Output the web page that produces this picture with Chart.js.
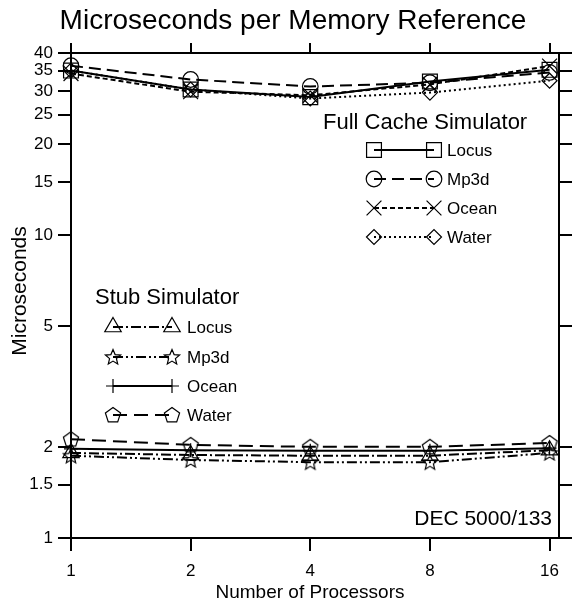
<!DOCTYPE html>
<html>
<head>
<meta charset="utf-8">
<script src="https://cdn.jsdelivr.net/npm/chart.js@4/dist/chart.umd.min.js"></script>
<style>
  body { margin: 0; background: #fff; }
</style>
</head>
<body>
<canvas id="c" width="574" height="606"></canvas>
<script>
// values
const procs = [1, 2, 4, 8, 16];
const yTicks = [1, 1.5, 2, 5, 10, 15, 20, 25, 30, 35, 40];

const fullLocus = [35.0, 30.3, 28.6, 32.2, 35.2];
const fullMp3d  = [36.3, 32.7, 31.0, 31.9, 34.5];
const fullOcean = [34.2, 29.8, 29.0, 31.5, 36.2];
const fullWater = [35.0, 30.3, 28.3, 29.6, 32.4];

const stubLocus = [1.91, 1.88, 1.87, 1.87, 1.95];
const stubMp3d  = [1.87, 1.81, 1.78, 1.78, 1.91];
const stubOcean = [1.97, 1.95, 1.94, 1.94, 1.98];
const stubWater = [2.12, 2.03, 2.00, 2.00, 2.06];

const FONT = '"Liberation Sans", Arial, sans-serif';

// hollow star and pentagon markers (chart.js has none)
function polyMarker(n, star, R) {
  const s = 20, c = document.createElement('canvas');
  c.width = s; c.height = s;
  const g = c.getContext('2d');
  g.strokeStyle = '#000'; g.lineWidth = 1.2;
  g.beginPath();
  const pts = star ? n * 2 : n;
  for (let i = 0; i < pts; i++) {
    const r = star ? (i % 2 ? R * 0.45 : R) : R;
    const a = -Math.PI / 2 + i * 2 * Math.PI / pts;
    const px = s / 2 + r * Math.cos(a), py = s / 2 + 0.5 + r * Math.sin(a);
    i ? g.lineTo(px, py) : g.moveTo(px, py);
  }
  g.closePath(); g.stroke();
  return c;
}
const starImg = polyMarker(5, true, 8);
const pentImg = polyMarker(5, false, 8);

function ds(label, vals, dash, style, radius) {
  return {
    label: label,
    data: procs.map((p, i) => ({ x: p, y: vals[i] })),
    borderColor: '#000', borderWidth: 2, borderDash: dash,
    pointStyle: style, pointRadius: radius, pointBorderWidth: 1.2,
    pointBorderColor: '#000', pointBackgroundColor: 'transparent',
    tension: 0, clip: false
  };
}

const full = [
  ds('Locus', fullLocus, [], 'rect', 10.5),
  ds('Mp3d', fullMp3d, [12, 6], 'circle', 7.8),
  ds('Ocean', fullOcean, [5, 3], 'crossRot', 10.5),
  ds('Water', fullWater, [2, 3], 'rectRot', 7.5)
];
const stub = [
  ds('Locus', stubLocus, [10, 3, 2, 3], 'triangle', 9.5),
  ds('Mp3d', stubMp3d, [10, 3, 2, 3, 2, 3], starImg, 8),
  ds('Ocean', stubOcean, [], 'cross', 7),
  ds('Water', stubWater, [14, 7], pentImg, 8)
];

function axis(pos, min, max, ticks, size, tickLen, showLabels) {
  const horiz = pos === 'top' || pos === 'bottom';
  return {
    type: 'logarithmic', position: pos, min: min, max: max,
    afterBuildTicks: s => { s.ticks = ticks.map(v => ({ value: v })); },
    afterFit: s => { if (horiz) s.height = size; else s.width = size; },
    ticks: {
      display: showLabels, autoSkip: false, maxRotation: 0,
      color: '#000', font: { family: FONT, size: 17 },
      padding: horiz ? 10 : 5,
      callback: v => String(v)
    },
    grid: { drawOnChartArea: false, drawTicks: true, tickLength: tickLen, tickColor: '#000', lineWidth: 2 },
    border: { display: true, color: '#000', width: 2 }
  };
}

function legendGroup(ctx, title, sets, tx, ty, x1, x2, lx, rows) {
  ctx.fillStyle = '#000';
  ctx.textAlign = 'left'; ctx.textBaseline = 'middle';
  ctx.font = '22px ' + FONT;
  ctx.fillText(title, tx, ty);
  ctx.font = '17px ' + FONT;
  sets.forEach((d, i) => {
    const y = rows[i];
    ctx.save();
    ctx.strokeStyle = '#000'; ctx.lineWidth = 2;
    ctx.setLineDash(d.borderDash);
    ctx.beginPath(); ctx.moveTo(x1, y); ctx.lineTo(x2, y); ctx.stroke();
    ctx.restore();
    ctx.save();
    ctx.strokeStyle = '#000'; ctx.fillStyle = 'transparent'; ctx.lineWidth = 1.2;
    [x1, x2].forEach(px => Chart.helpers.drawPoint(ctx, {
      pointStyle: d.pointStyle, radius: d.pointRadius, rotation: 0, borderWidth: 1.2
    }, px, y));
    ctx.restore();
    ctx.fillStyle = '#000';
    ctx.fillText(d.label, lx, y + 1);
  });
}

const texts = {
  id: 'texts',
  afterDraw(chart) {
    const ctx = chart.ctx;
    ctx.save();
    ctx.fillStyle = '#000';
    ctx.textBaseline = 'middle';
    ctx.textAlign = 'center';
    ctx.font = '28px ' + FONT;
    ctx.fillText('Microseconds per Memory Reference', 293, 21);
    ctx.font = '19px ' + FONT;
    ctx.fillText('Number of Processors', 310, 593);
    ctx.save();
    ctx.translate(20, 291); ctx.rotate(-Math.PI / 2);
    ctx.font = '21px ' + FONT;
    ctx.fillText('Microseconds', 0, 0);
    ctx.restore();
    ctx.textAlign = 'right';
    ctx.font = '21px ' + FONT;
    ctx.fillText('DEC 5000/133', 552, 519);
    legendGroup(ctx, 'Full Cache Simulator', full, 323, 123, 374, 434, 447, [150, 179, 208, 237]);
    legendGroup(ctx, 'Stub Simulator', stub, 95, 298, 113, 172, 187, [327, 357, 386, 415]);
    ctx.restore();
  }
};

new Chart(document.getElementById('c'), {
  type: 'line',
  data: { datasets: full.concat(stub) },
  options: {
    responsive: false, animation: false,
    layout: { padding: 0 },
    plugins: { legend: { display: false }, title: { display: false }, tooltip: { enabled: false } },
    scales: {
      x: axis('bottom', 1, 16.9, procs, 68, 13, true),
      x2: axis('top', 1, 16.9, procs, 53, 10, false),
      y: axis('left', 1, 40, yTicks, 71, 13, true),
      y2: axis('right', 1, 40, yTicks, 15, 13, false)
    }
  },
  plugins: [texts]
});
</script>
</body>
</html>
